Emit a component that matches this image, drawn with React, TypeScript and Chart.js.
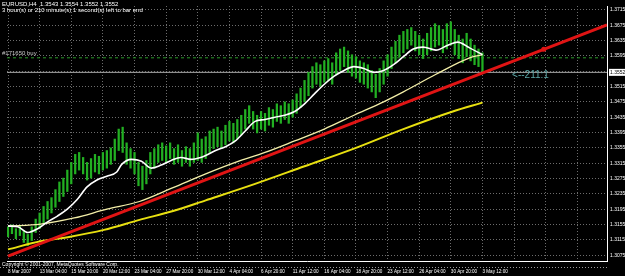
import React, { useEffect, useRef } from 'react';
import { Chart, registerables } from 'chart.js';

Chart.register(...registerables);

// ---- data (H4 EURUSD, x = bar number, 2 bars per sample) ----
const barHigh = [
  1.3149, 1.3154, 1.3144, 1.3151, 1.3139, 1.3129, 1.3149, 1.3169, 1.3185, 1.3202,
  1.3215, 1.3225, 1.3246, 1.3266, 1.3276, 1.3297, 1.3317, 1.3338, 1.3343, 1.3330,
  1.3317, 1.3327, 1.3338, 1.3333, 1.3343, 1.3348, 1.3355, 1.3378, 1.3404, 1.3409,
  1.3368, 1.3353, 1.3343, 1.3317, 1.3307, 1.3322, 1.3343, 1.3353, 1.3363, 1.3368,
  1.3360, 1.3368, 1.3353, 1.3363, 1.3348, 1.3358, 1.3353, 1.3368, 1.3394, 1.3378,
  1.3384, 1.3399, 1.3404, 1.3409, 1.3399, 1.3414, 1.3424, 1.3419, 1.3429, 1.3440,
  1.3455, 1.3465, 1.3450, 1.3440, 1.3450, 1.3445, 1.3460, 1.3455, 1.3470, 1.3465,
  1.3475, 1.3470, 1.3480, 1.3496, 1.3511, 1.3531, 1.3552, 1.3567, 1.3577, 1.3572,
  1.3582, 1.3588, 1.3577, 1.3603, 1.3613, 1.3618, 1.3608, 1.3598, 1.3593, 1.3582,
  1.3577, 1.3572, 1.3557, 1.3547, 1.3562, 1.3582, 1.3598, 1.3618, 1.3633, 1.3649,
  1.3659, 1.3664, 1.3669, 1.3659, 1.3649, 1.3639, 1.3654, 1.3669, 1.3679, 1.3674,
  1.3664, 1.3679, 1.3684, 1.3664, 1.3649, 1.3639, 1.3654, 1.3639, 1.3623, 1.3613,
  1.3603,
];
const barLow = [
  1.3123, 1.3131, 1.3118, 1.3126, 1.3108, 1.3100, 1.3113, 1.3134, 1.3144, 1.3159,
  1.3169, 1.3185, 1.3200, 1.3215, 1.3228, 1.3241, 1.3261, 1.3287, 1.3297, 1.3287,
  1.3271, 1.3276, 1.3292, 1.3287, 1.3297, 1.3302, 1.3312, 1.3322, 1.3348, 1.3343,
  1.3312, 1.3302, 1.3287, 1.3256, 1.3246, 1.3261, 1.3287, 1.3302, 1.3317, 1.3322,
  1.3317, 1.3327, 1.3312, 1.3317, 1.3307, 1.3317, 1.3307, 1.3317, 1.3322, 1.3317,
  1.3327, 1.3343, 1.3353, 1.3358, 1.3353, 1.3363, 1.3373, 1.3368, 1.3378, 1.3389,
  1.3404, 1.3419, 1.3404, 1.3394, 1.3404, 1.3399, 1.3414, 1.3409, 1.3424, 1.3419,
  1.3429, 1.3419, 1.3435, 1.3445, 1.3460, 1.3475, 1.3491, 1.3511, 1.3521, 1.3516,
  1.3526, 1.3531, 1.3521, 1.3547, 1.3557, 1.3567, 1.3552, 1.3542, 1.3537, 1.3526,
  1.3521, 1.3511, 1.3501, 1.3486, 1.3501, 1.3521, 1.3542, 1.3562, 1.3577, 1.3593,
  1.3603, 1.3613, 1.3623, 1.3608, 1.3598, 1.3588, 1.3598, 1.3608, 1.3618, 1.3623,
  1.3603, 1.3613, 1.3623, 1.3598, 1.3588, 1.3577, 1.3593, 1.3582, 1.3572, 1.3567,
  1.3550,
];
const barStep = 2;

// fast MA (white)
const fastMaX = [0, 5, 10, 15, 20, 25, 30, 35, 40, 45, 50, 55, 57.5, 62.5, 67.5, 72.5, 77.5, 82.5, 87.5, 92.5, 97.5, 100, 105, 110, 115, 120, 125, 130, 135, 140, 145, 150, 155, 160, 165, 170, 175, 180, 185, 190, 195, 200, 205, 210, 216.5, 222.5, 227.5, 233.5, 240];
const fastMaY = [1.3151, 1.3149, 1.3134, 1.3144, 1.3162, 1.3177, 1.3195, 1.3220, 1.3253, 1.3271, 1.3281, 1.3292, 1.3312, 1.3325, 1.3320, 1.3302, 1.3310, 1.3322, 1.3330, 1.3325, 1.3330, 1.3335, 1.3348, 1.3358, 1.3373, 1.3399, 1.3424, 1.3429, 1.3435, 1.3440, 1.3450, 1.3470, 1.3496, 1.3521, 1.3542, 1.3557, 1.3567, 1.3562, 1.3552, 1.3557, 1.3572, 1.3593, 1.3613, 1.3618, 1.3610, 1.3623, 1.3631, 1.3616, 1.3598];

// medium MA (pale yellow)
const midMaX = [0, 16.5, 33.5, 50, 66.5, 83.5, 100, 115, 130, 145, 160, 175, 190, 200, 216.5, 233.5, 240];
const midMaY = [1.3151, 1.3156, 1.3172, 1.3195, 1.3215, 1.3251, 1.3287, 1.3317, 1.3343, 1.3373, 1.3404, 1.3440, 1.3475, 1.3501, 1.3547, 1.3590, 1.3598];

// slow MA (yellow)
const slowMaX = [0, 16.5, 31.5, 48.5, 66.5, 83.5, 100, 125, 150, 175, 200, 225, 240];
const slowMaY = [1.3090, 1.3111, 1.3123, 1.3141, 1.3167, 1.3190, 1.3218, 1.3261, 1.3307, 1.3353, 1.3404, 1.3450, 1.3473];

// trend line (red): start, anchor, end of ray
const trendX = [0, 271, 303];
const trendY = [1.30725, 1.3612, 1.36757];

const bidPrice = 1.3552;
const buyLevel = 1.3590;
const buyLabel = '#171650 buy';
const ratioLabel = '<--211:1';
const ratioX = 255;
const ratioY = 1.3544;

const headerLines = [
  'EURUSD,H4  1.3543 1.3554 1.3552 1.3552',
  '3 hour(s) or 210 minute(s) 1 second(s) left to bar end',
];
const footerText = 'Copyright \u00a9 2001-2007, MetaQuotes Software Corp.';

const xTickLabels = [
  '8 Mar 2007', '13 Mar 04:00', '15 Mar 20:00', '20 Mar 12:00', '23 Mar 04:00',
  '27 Mar 20:00', '30 Mar 12:00', '4 Apr 04:00', '6 Apr 20:00', '11 Apr 12:00',
  '16 Apr 04:00', '18 Apr 20:00', '23 Apr 12:00', '26 Apr 04:00', '30 Apr 20:00',
  '3 May 12:00', '', '', '',
];
const xTickEvery = 16;
const yTicks = [
  1.3075, 1.3115, 1.3155, 1.3195, 1.3235, 1.3275, 1.3315, 1.3355, 1.3395,
  1.3435, 1.3475, 1.3515, 1.3555, 1.3595, 1.3635, 1.3675, 1.3715,
];

const FONT = '"Liberation Sans", Arial, sans-serif';

export default function App() {
  const ref = useRef<HTMLCanvasElement | null>(null);

  useEffect(() => {
    const canvas = ref.current;
    if (!canvas) return;

    const bars = barHigh.map((h, i) => ({ x: i * barStep, y: [barLow[i], h] }));
    const pts = (xs: number[], ys: number[]) => xs.map((x, i) => ({ x, y: ys[i] }));

    const bgPlugin = {
      id: 'bg',
      beforeDraw(chart: any) {
        const c = chart.ctx;
        c.save();
        c.fillStyle = '#000000';
        c.fillRect(0, 0, chart.width, chart.height);
        c.restore();
      },
    };

    const textPlugin = {
      id: 'texts',
      afterDraw(chart: any) {
        const c = chart.ctx;
        const xs = chart.scales.x;
        const ys = chart.scales.y;
        const area = chart.chartArea;
        c.save();
        c.textBaseline = 'top';
        c.textAlign = 'left';
        c.fillStyle = '#ffffff';
        c.font = `6px ${FONT}`;
        headerLines.forEach((t, i) => c.fillText(t, 2, 1 + i * 6));

        // buy label
        c.fillStyle = '#c8c8c8';
        c.textBaseline = 'bottom';
        c.fillText(buyLabel, 2, ys.getPixelForValue(buyLevel) - 1);

        // ratio text
        c.fillStyle = '#5aa6a6';
        c.font = `10px ${FONT}`;
        c.textBaseline = 'middle';
        c.fillText(ratioLabel, xs.getPixelForValue(ratioX), ys.getPixelForValue(ratioY));

        // footer strip
        c.fillStyle = '#ffffff';
        c.font = `5px ${FONT}`;
        c.textBaseline = 'top';
        c.fillText(footerText, 2, area.bottom + 1);
        c.strokeStyle = '#9a9a9a';
        c.setLineDash([1, 2]);
        c.beginPath();
        c.moveTo(0, area.bottom + 6.5);
        c.lineTo(area.right, area.bottom + 6.5);
        c.stroke();
        c.setLineDash([]);

        // current price box on the price axis
        const py = ys.getPixelForValue(bidPrice);
        c.fillStyle = '#ffffff';
        c.fillRect(area.right + 2, py - 3.5, 16, 7);
        c.fillStyle = '#000000';
        c.font = `5px ${FONT}`;
        c.textBaseline = 'middle';
        c.fillText(bidPrice.toFixed(4), area.right + 3, py);
        c.restore();
      },
    };

    const chart = new Chart(canvas, {
      type: 'bar',
      data: {
        datasets: [
          {
            type: 'line',
            label: 'trend',
            data: pts(trendX, trendY),
            borderColor: '#e01414',
            backgroundColor: '#e01414',
            borderWidth: 3,
            pointRadius: [0, 2.5, 0],
            pointBorderWidth: 0,
            order: 0,
          },
          {
            type: 'line',
            label: 'fast',
            data: pts(fastMaX, fastMaY),
            borderColor: '#ffffff',
            borderWidth: 1.6,
            pointRadius: 0,
            cubicInterpolationMode: 'monotone',
            order: 1,
          },
          {
            type: 'line',
            label: 'mid',
            data: pts(midMaX, midMaY),
            borderColor: '#f4efa8',
            borderWidth: 1.3,
            pointRadius: 0,
            cubicInterpolationMode: 'monotone',
            order: 2,
          },
          {
            type: 'line',
            label: 'slow',
            data: pts(slowMaX, slowMaY),
            borderColor: '#e8e010',
            borderWidth: 2,
            pointRadius: 0,
            cubicInterpolationMode: 'monotone',
            order: 3,
          },
          {
            type: 'bar',
            label: 'bars',
            data: bars as any,
            backgroundColor: '#22b022',
            borderWidth: 0,
            barThickness: 1.6,
            order: 4,
          },
          {
            type: 'line',
            label: 'buy',
            data: [{ x: -0.5, y: buyLevel }, { x: 303, y: buyLevel }],
            borderColor: '#2a9a2a',
            borderWidth: 1,
            borderDash: [3, 3],
            pointRadius: 0,
            order: 5,
          },
          {
            type: 'line',
            label: 'bid',
            data: [{ x: -0.5, y: bidPrice }, { x: 303, y: bidPrice }],
            borderColor: '#a8a8a8',
            borderWidth: 1,
            pointRadius: 0,
            order: 6,
          },
        ],
      },
      options: {
        animation: false,
        responsive: false,
        maintainAspectRatio: false,
        devicePixelRatio: 1,
        layout: { padding: 0, autoPadding: false },
        plugins: { legend: { display: false }, tooltip: { enabled: false } },
        scales: {
          x: {
            type: 'linear',
            min: -0.5,
            max: 303,
            offset: false,
            grid: { color: '#6c6c6c', lineWidth: 1, drawTicks: false, offset: false },
            border: { color: '#ffffff', width: 1, dash: [1, 2] },
            afterBuildTicks: (s: any) => {
              s.ticks = xTickLabels.map((_, i) => ({ value: i * xTickEvery }));
            },
            afterFit: (s: any) => {
              s.height = 15;
            },
            ticks: {
              autoSkip: false,
              maxRotation: 0,
              minRotation: 0,
              align: 'start',
              padding: 8,
              color: '#ffffff',
              font: { size: 4.6, family: FONT },
              callback: (v: any) => xTickLabels[Math.round(Number(v) / xTickEvery)] ?? '',
            },
          },
          y: {
            type: 'linear',
            position: 'right',
            min: 1.30597,
            max: 1.37252,
            grid: { color: '#6c6c6c', lineWidth: 1, drawTicks: false },
            border: { color: '#ffffff', width: 1, dash: [1, 2] },
            afterBuildTicks: (s: any) => {
              s.ticks = yTicks.map((v) => ({ value: v }));
            },
            afterFit: (s: any) => {
              s.width = 18;
            },
            ticks: {
              autoSkip: false,
              padding: 3,
              color: '#ffffff',
              font: { size: 5, family: FONT },
              callback: (v: any) => (Math.abs(Number(v) - 1.3555) < 1e-6 ? '' : Number(v).toFixed(4)),
            },
          },
        },
      } as any,
      plugins: [bgPlugin, textPlugin],
    });

    return () => chart.destroy();
  }, []);

  return (
    <div style={{ position: 'fixed', left: 0, top: 0, width: 625, height: 276, background: '#000' }}>
      <canvas ref={ref} width={625} height={276} style={{ display: 'block' }} />
    </div>
  );
}
